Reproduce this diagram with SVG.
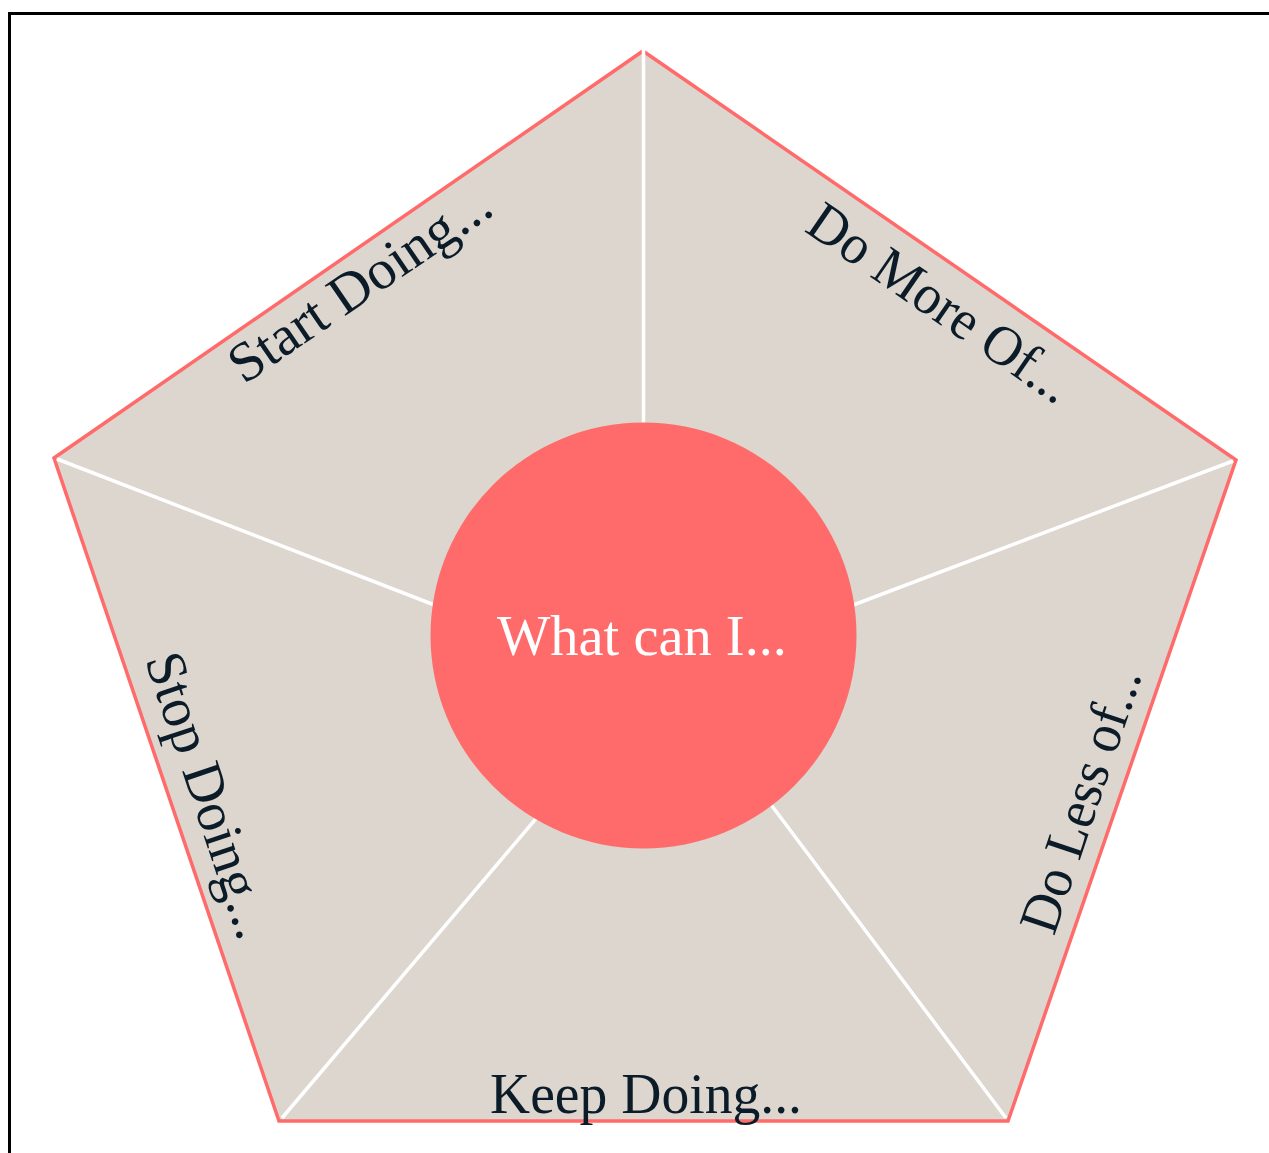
<svg xmlns="http://www.w3.org/2000/svg" width="1269" height="1153" viewBox="0 0 1269 1153">
  <style>
    .lbl { font-family: "Liberation Serif", "DejaVu Serif", serif; font-size: 56px; fill: #0B1B28; text-anchor: middle; }
    .ctr { font-family: "Liberation Serif", "DejaVu Serif", serif; font-size: 56px; fill: #FFFFFF; text-anchor: middle; }
    .spoke { stroke: #FFFFFF; stroke-width: 3.5; }
  </style>
  <rect x="0" y="0" width="1269" height="1153" fill="#FFFFFF"/>
  <rect x="9.5" y="13.5" width="1300" height="1200" fill="none" stroke="#000000" stroke-width="3"/>
  <g id="pentagon">
    <polygon points="643,51 1236,460 1008,1121 279,1121 54,458" fill="#DCD6CE" stroke="#FF6B6B" stroke-width="3.5" stroke-linejoin="miter"/>
  </g>
  <g id="connectors">
    <line class="spoke" x1="643.5" y1="440" x2="643.5" y2="49"/>
    <line class="spoke" x1="840" y1="610" x2="1233" y2="461"/>
    <line class="spoke" x1="760" y1="790" x2="1006" y2="1118"/>
    <line class="spoke" x1="545" y1="808" x2="282" y2="1118"/>
    <line class="spoke" x1="450" y1="611" x2="57" y2="459"/>
  </g>
  <g id="node-start">
    <text class="lbl" transform="translate(370,299) rotate(-34.3)" textLength="305" lengthAdjust="spacingAndGlyphs">Start Doing...</text>
  </g>
  <g id="node-more">
    <text class="lbl" transform="translate(930,318) rotate(34.6)" textLength="308" lengthAdjust="spacingAndGlyphs">Do More Of...</text>
  </g>
  <g id="node-less">
    <text class="lbl" transform="translate(1098,806) rotate(-71.4)" textLength="276" lengthAdjust="spacingAndGlyphs">Do Less of...</text>
  </g>
  <g id="node-keep">
    <text class="lbl" x="646" y="1113" textLength="312" lengthAdjust="spacingAndGlyphs">Keep Doing...</text>
  </g>
  <g id="node-stop">
    <text class="lbl" transform="translate(192,801) rotate(71.5)" textLength="298" lengthAdjust="spacingAndGlyphs">Stop Doing...</text>
  </g>
  <g id="node-center">
    <circle cx="643.5" cy="635.5" r="213" fill="#FF6B6B"/>
    <text class="ctr" x="642" y="655" textLength="290" lengthAdjust="spacingAndGlyphs">What can I...</text>
  </g>
</svg>
